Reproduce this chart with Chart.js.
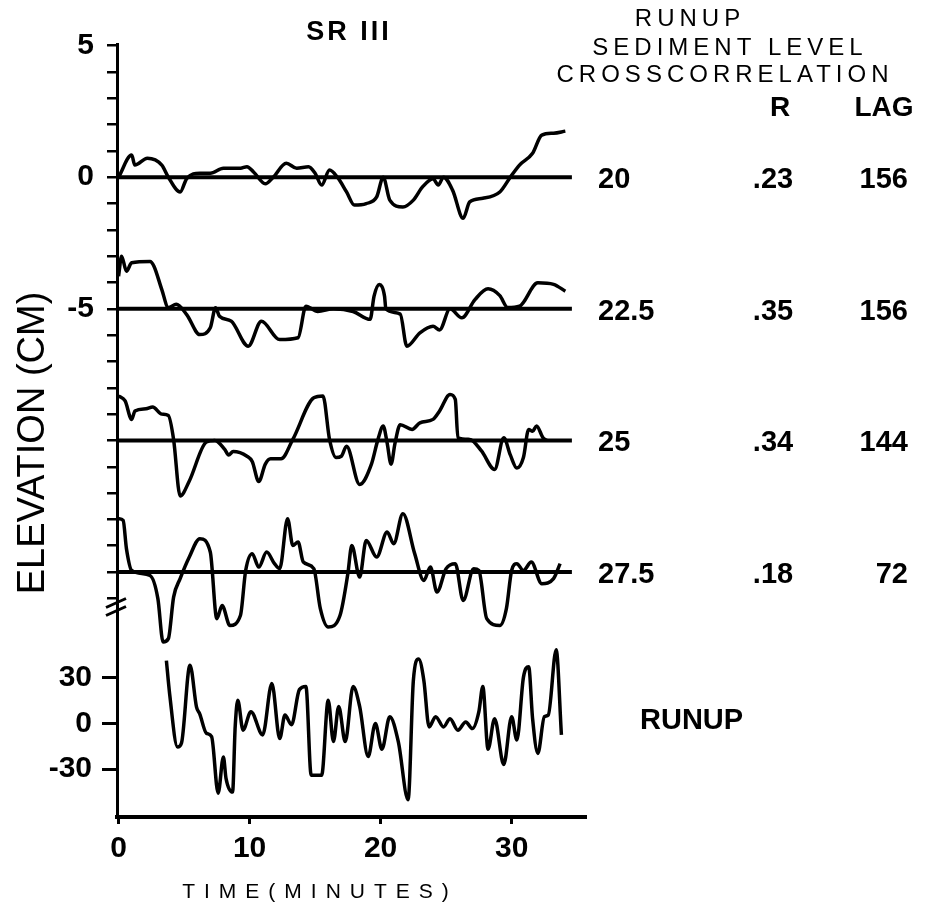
<!DOCTYPE html>
<html>
<head>
<meta charset="utf-8">
<script src="https://cdn.jsdelivr.net/npm/chart.js@4.4.1/dist/chart.umd.min.js"></script>
<style>
  html, body { margin: 0; padding: 0; background: #fff; }
  canvas { display: block; }
</style>
</head>
<body>
<canvas id="runupChart" width="925" height="910"></canvas>
<script>
// sediment level traces: time (minutes) and deviation from the trace baseline (cm)
const time20 = [0, 1.0, 1.24, 2.2, 3.3, 3.8, 4.7, 5.2, 6.2, 7.0, 8.0, 9.3, 9.8, 10.3, 11.2, 11.8, 12.8, 13.6, 14.5, 15.0, 15.5, 16.1, 16.7, 17.4, 18.0, 18.9, 19.7, 20.2, 20.7, 21.7, 22.5, 23.2, 24.0, 24.4, 24.8, 25.5, 26.3, 26.8, 27.8, 29.1, 29.9, 30.6, 31.6, 32.3, 33.2, 34.1];
const level20 = [0, 0.84, 0.46, 0.72, 0.46, 0, -0.56, -0.05, 0.15, 0.15, 0.34, 0.34, 0.4, 0.2, -0.25, 0, 0.53, 0.34, 0.4, 0.15, -0.3, 0.27, 0, -0.56, -1.06, -1.0, -0.75, 0, -0.87, -1.13, -0.87, -0.37, -0.06, -0.3, 0, -0.5, -1.56, -0.94, -0.8, -0.56, 0, 0.46, 0.91, 1.6, 1.67, 1.75];

const time225 = [0, 0.23, 0.6, 1.0, 2.4, 2.7, 3.3, 3.8, 4.4, 5.2, 6.2, 7.0, 7.4, 7.7, 8.6, 9.9, 10.9, 12.3, 13.7, 14.3, 15.2, 16.4, 17.9, 19.2, 19.5, 19.9, 20.3, 20.4, 21.5, 22.0, 23.0, 24.0, 24.5, 25.3, 26.2, 27.2, 28.2, 29.1, 29.7, 30.6, 32.0, 33.2, 34.1];
const level225 = [1.24, 2.0, 1.43, 1.75, 1.8, 1.62, 0.73, 0.05, 0.17, -0.22, -0.98, -0.72, 0.04, -0.28, -0.47, -1.42, -0.47, -1.17, -1.1, 0.1, -0.1, 0, -0.1, -0.4, 0.48, 0.92, 0.48, 0, -0.2, -1.42, -0.91, -0.66, -0.8, 0, -0.34, 0.35, 0.76, 0.5, 0.05, 0.1, 0.99, 0.93, 0.67];

const time25 = [0, 0.5, 1.0, 1.25, 2.1, 2.6, 3.3, 3.8, 4.2, 4.7, 5.4, 6.7, 7.35, 8.1, 8.4, 8.75, 9.8, 10.2, 10.7, 11.2, 11.6, 12.4, 13.3, 14.9, 15.6, 16.1, 16.6, 17.0, 17.4, 18.4, 19.3, 19.8, 20.2, 20.5, 20.8, 21.1, 21.5, 22.4, 23.0, 24.0, 24.5, 25.3, 25.7, 25.9, 26.8, 27.7, 28.7, 29.4, 29.9, 30.4, 30.9, 31.3, 31.6, 31.9, 32.4, 32.7];
const level25 = [1.69, 1.5, 0.8, 1.12, 1.2, 1.27, 1.0, 0.95, 0.04, -2.11, -1.54, -0.06, 0, -0.34, -0.55, -0.42, -0.6, -0.8, -1.56, -0.9, -0.7, -0.7, 0.04, 1.62, 1.69, 0.04, -0.65, -0.6, -0.22, -1.67, -0.9, 0.04, 0.55, -0.1, -0.9, -0.1, 0.6, 0.42, 0.67, 0.8, 1.12, 1.75, 1.56, 0.1, 0.04, -0.4, -1.1, 0.1, -0.55, -1.05, -0.65, 0.42, 0.35, 0.55, 0.1, 0];

const time275 = [0, 0.35, 0.6, 1.0, 2.4, 3.0, 3.4, 3.8, 4.2, 4.7, 5.4, 6.2, 7.0, 7.5, 7.9, 8.5, 9.3, 9.7, 10.2, 10.7, 11.3, 11.9, 12.3, 12.9, 13.3, 13.7, 14.1, 14.9, 15.4, 16.0, 16.9, 17.5, 17.8, 18.4, 18.9, 19.7, 20.5, 21.0, 21.7, 22.6, 23.3, 23.8, 24.3, 25.0, 25.7, 26.3, 27.1, 27.5, 28.1, 29.1, 29.6, 30.0, 30.4, 30.9, 31.5, 32.3, 33.2, 33.7];
const level275 = [2.03, 1.96, 0.89, 0.06, -0.13, -1.01, -2.66, -2.53, -0.95, -0.25, 0.57, 1.27, 0.76, -1.77, -1.27, -2.03, -1.65, 0.06, 0.7, 0.19, 0.76, 0.32, 0.13, 2.03, 1.01, 1.14, 0.38, 0.13, -1.39, -2.09, -1.65, -0.06, 1.01, -0.19, 1.2, 0.57, 1.52, 1.08, 2.22, 0.7, -0.32, 0.19, -0.76, 0.13, 0.32, -1.08, 0.13, 0.06, -1.77, -2.03, -1.39, 0.06, 0.32, 0.06, 0.38, -0.44, -0.25, 0.32];

// runup record (lower panel)
const runupTime = [3.65, 3.9, 4.5, 4.8, 5.45, 5.95, 6.2, 6.7, 7.1, 7.6, 8.0, 8.2, 8.7, 8.9, 9.1, 9.5, 10.1, 11.0, 11.7, 12.3, 12.7, 13.2, 13.8, 14.3, 14.7, 15.5, 16.0, 16.4, 16.8, 17.3, 17.9, 18.4, 19.05, 19.6, 20.1, 20.7, 21.35, 22.1, 22.5, 22.9, 23.3, 23.7, 24.2, 24.8, 25.3, 25.9, 26.5, 27.0, 27.5, 27.8, 28.2, 28.7, 29.4, 30.0, 30.4, 30.9, 31.3, 31.6, 32.0, 32.5, 32.8, 33.4, 33.8];
const runupValues = [41, 19, -15.5, -13, 38, 10.6, 6, -6.5, -8.7, -45.7, -22, -36, -45, -2.4, 15, -4.5, 7.6, -7.6, 26, -10, 5.4, -1, 22, 24, -34, -34, 15, -12, 11, -12, 24, 11, -21.7, -0.2, -17, 4.3, -12, -50, 28, 42, 28, -2.4, 4.3, -2.4, 3, -4.5, 0.9, -3.5, 7.6, 24, -17, 3, -27, 4.3, -11, 30, 37, 3, -19.7, 4.3, 5.4, 48, -7.6];

const traceBaselines = [0, -5, -10, -15];
const baselineEnd = 34.6;
const runupLevels = ['20', '22.5', '25', '27.5'];
const corrR = ['.23', '.35', '.34', '.18'];
const corrLag = ['156', '156', '144', '72'];
const timeTicks = [0, 10, 20, 30];
const elevationLabels = [5, 0, -5];
const runupTicks = [30, 0, -30];

const FONT = "'Liberation Sans', Arial, sans-serif";

const traces = [[time20, level20], [time225, level225], [time25, level25], [time275, level275]];

const datasets = [];
traces.forEach(([t, v], k) => {
  datasets.push({
    data: t.map((x, i) => ({ x: x, y: traceBaselines[k] + v[i] })),
    yAxisID: 'y', borderColor: '#000', borderWidth: 3.5, clip: false,
    pointRadius: 0, cubicInterpolationMode: 'monotone'
  });
  datasets.push({
    data: [{ x: 0, y: traceBaselines[k] }, { x: baselineEnd, y: traceBaselines[k] }],
    yAxisID: 'y', borderColor: '#000', borderWidth: 4, pointRadius: 0
  });
});
datasets.push({
  data: runupTime.map((x, i) => ({ x: x, y: runupValues[i] })),
  yAxisID: 'yr', borderColor: '#000', borderWidth: 3.5,
  pointRadius: 0, cubicInterpolationMode: 'monotone'
});

// texts around the plot
const annotate = {
  id: 'annotate',
  afterDraw(chart) {
    const ctx = chart.ctx;
    const ys = chart.scales.y;
    const yr = chart.scales.yr;
    ctx.save();
    ctx.fillStyle = '#000';
    ctx.strokeStyle = '#000';
    ctx.textBaseline = 'middle';

    // title
    ctx.font = 'bold 27px ' + FONT;
    ctx.textAlign = 'center';
    ctx.letterSpacing = '3px';
    ctx.fillText('SR III', 349, 33);

    // header at right
    ctx.font = '24px ' + FONT;
    ctx.letterSpacing = '5px';
    ctx.fillText('RUNUP', 690, 19);
    ctx.fillText('SEDIMENT LEVEL', 730, 48);
    ctx.fillText('CROSSCORRELATION', 725, 75);
    ctx.letterSpacing = '0px';
    ctx.font = 'bold 28px ' + FONT;
    ctx.fillText('R', 780, 108);
    ctx.fillText('LAG', 884, 108);

    // table rows
    ctx.font = 'bold 29px ' + FONT;
    traceBaselines.forEach((b, i) => {
      const py = ys.getPixelForValue(b) + 3;
      ctx.textAlign = 'left';
      ctx.fillText(runupLevels[i], 598, py);
      ctx.textAlign = 'center';
      ctx.fillText(corrR[i], 773, py);
      ctx.textAlign = 'right';
      ctx.fillText(corrLag[i], 908, py);
    });
    ctx.textAlign = 'left';
    ctx.fillText('RUNUP', 640, yr.getPixelForValue(0) - 2);

    // axis titles
    ctx.font = '38px ' + FONT;
    ctx.textAlign = 'center';
    ctx.save();
    ctx.translate(34, 443);
    ctx.rotate(-Math.PI / 2);
    ctx.fillText('ELEVATION (CM)', 0, 0);
    ctx.restore();

    ctx.font = '21px ' + FONT;
    ctx.letterSpacing = '9px';
    ctx.fillText('TIME(MINUTES)', 320, 892);
    ctx.letterSpacing = '0px';

    // axis break mark
    const by = ys.bottom;
    const ax = ys.right;
    ctx.lineWidth = 3;
    ctx.beginPath();
    ctx.moveTo(ax - 11, by + 2); ctx.lineTo(ax + 9, by - 7);
    ctx.moveTo(ax - 11, by + 10); ctx.lineTo(ax + 9, by + 1);
    ctx.stroke();
    ctx.restore();
  }
};

new Chart(document.getElementById('runupChart').getContext('2d'), {
  type: 'line',
  data: { datasets: datasets },
  options: {
    responsive: false,
    animation: false,
    layout: { padding: { left: 0, top: 44, right: 340, bottom: 0 } },
    plugins: { legend: { display: false }, tooltip: { enabled: false } },
    scales: {
      x: {
        type: 'linear', position: 'bottom', min: -0.12, max: 35.6,
        afterBuildTicks: s => { s.ticks = timeTicks.map(v => ({ value: v })); },
        afterFit: s => { s.height = 93; },
        ticks: { color: '#000', font: { family: FONT, size: 30, weight: 'bold' }, padding: 7, maxRotation: 0, autoSkip: false },
        grid: { drawOnChartArea: false, drawTicks: true, tickLength: 7, color: '#000', lineWidth: 3 },
        border: { color: '#000', width: 4 }
      },
      // left axes are stacked bottom-up in reverse order, so runup comes first
      yr: {
        type: 'linear', position: 'left', stack: 'left', stackWeight: 211.5,
        min: -61.3, max: 77,
        afterBuildTicks: s => { s.ticks = runupTicks.map(v => ({ value: v })); },
        afterFit: s => { s.width = 117; },
        ticks: { autoSkip: false, padding: 10, color: '#000', font: { family: FONT, size: 30, weight: 'bold' } },
        grid: { drawOnChartArea: false, drawTicks: true, tickLength: 15, color: '#000', lineWidth: 3 },
        border: { color: '#000', width: 3 }
      },
      y: {
        type: 'linear', position: 'left', stack: 'left', stackWeight: 561.5,
        min: -16.27, max: 5.06,
        afterFit: s => { s.width = 117; },
        ticks: {
          stepSize: 1, includeBounds: false, autoSkip: false, padding: 13, color: '#000',
          font: { family: FONT, size: 30, weight: 'bold' },
          callback: v => elevationLabels.includes(v) ? String(v) : ''
        },
        grid: { drawOnChartArea: false, drawTicks: true, tickLength: 10, color: '#000', lineWidth: 2.5 },
        border: { color: '#000', width: 3 }
      }
    }
  },
  plugins: [annotate]
});
</script>
</body>
</html>
